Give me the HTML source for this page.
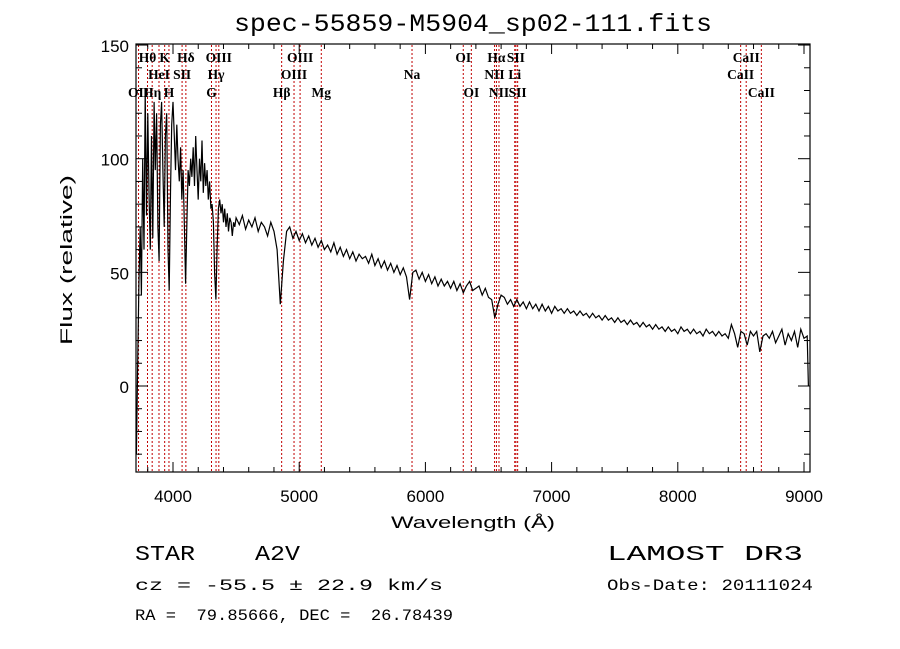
<!DOCTYPE html>
<html><head><meta charset="utf-8"><style>
html,body{margin:0;padding:0;background:#fff;}
svg{display:block;}
text{fill:#000;white-space:pre;}
.t{font-family:"Liberation Mono",monospace;}
.l{font-family:"Liberation Serif",serif;font-weight:bold;font-size:13.5px;}
.k{font-family:"Liberation Sans",sans-serif;font-size:17px;}
</style></head><body>
<svg id="chart" width="900" height="649" viewBox="0 0 900 649" xmlns="http://www.w3.org/2000/svg" xml:space="preserve">
<rect width="900" height="649" fill="#fff"/>
<text class="t" x="473" y="31" font-size="25" text-anchor="middle" textLength="478" lengthAdjust="spacingAndGlyphs">spec-55859-M5904_sp02-111.fits</text>
<g id="lines"></g>
<g id="labels"></g>
<path id="spec" fill="none" stroke="#000" stroke-width="1.2"/>
<rect x="136" y="44" width="674" height="428" fill="none" stroke="#000" stroke-width="1.2"/>
<g id="ticks"></g>
<text class="k" x="473" y="528" text-anchor="middle" textLength="164" lengthAdjust="spacingAndGlyphs">Wavelength (Å)</text>
<text class="k" transform="translate(72,260) rotate(-90)" text-anchor="middle" textLength="170" lengthAdjust="spacingAndGlyphs">Flux (relative)</text>
<text class="t" x="135" y="560" font-size="21" textLength="165" lengthAdjust="spacingAndGlyphs">STAR    A2V</text>
<text class="t" x="607" y="560" font-size="21" textLength="196" lengthAdjust="spacingAndGlyphs">LAMOST DR3</text>
<text class="t" x="135" y="590" font-size="16" textLength="308" lengthAdjust="spacingAndGlyphs">cz = -55.5 ± 22.9 km/s</text>
<text class="t" x="607" y="590" font-size="16" textLength="206" lengthAdjust="spacingAndGlyphs">Obs-Date: 20111024</text>
<text class="t" x="135" y="620" font-size="16" textLength="318" lengthAdjust="spacingAndGlyphs">RA =  79.85666, DEC =  26.78439</text>
</svg>
<script>
const blueWl=[3710,3720,3730,3740,3750,3760,3770,3780,3790,3800,3810,3820,3830,3840,3850,3860,3870,3880,3890,3900,3910,3920,3930,3940,3950,3960,3970,3980,3990,4000,4010,4020,4030,4040,4050,4060,4070,4080,4090,4100,4110,4120,4130,4140,4150,4160,4170,4180,4190,4200,4210,4220,4230,4240,4250,4260,4270,4280,4290,4300,4310,4320,4330,4340,4350,4360,4370,4380,4390,4400,4410,4420,4430,4440,4450,4460,4470,4480,4490,4500];
const blueFlux=[-30,10,45,70,40,100,60,130,75,120,85,60,110,65,125,95,120,70,55,115,125,95,70,110,120,60,42,85,115,125,110,95,115,100,90,105,82,95,70,45,72,95,88,100,92,105,88,110,95,82,100,90,108,85,98,88,95,82,90,78,80,72,50,38,62,78,82,76,80,72,78,70,76,68,74,72,66,72,70,74];
const redStart=4525, redStep=25;
const redFlux=[71,75,69,73,70,74,68,72,70,66,72,68,60,36,55,68,70,65,68,64,67,63,66,62,65,61,64,60,62,59,63,58,61,57,60,56,59,55,58,56,57,54,58,53,56,52,55,51,54,50,53,49,52,48,38,50,51,47,50,46,49,45,48,44,47,44,46,43,46,42,45,41,44,46,42,43,44,40,43,39,38,30,36,40,39,36,38,35,38,35,37,34,37,34,36,33,36,33,35,32,35,33,34,32,34,32,33,31,33,31,32,30,32,30,31,29,31,29,30,28,30,28,29,27,29,27,28,26,28,26,27,25,27,25,26,24,26,24,25,23,26,24,25,23,25,23,24,22,25,23,24,22,24,22,23,21,27,23,17,24,23,18,24,22,24,15,22,23,21,24,19,22,25,18,23,20,24,17,25,21,22];
const lineWl=[3727,3798,3835,3889,3934,3968,4072,4102,4305,4341,4363,4861,4959,5007,5175,5894,6300,6364,6548,6563,6583,6708,6717,6731,8498,8542,8662];
const lineNames=["OII","Hθ","Hη","HeI","K","H","SII","Hδ","G","Hγ","OIII","Hβ","OIII","OIII","Mg","Na","OI","OI","NII","Hα","NII","Li","SII","SII","CaII","CaII","CaII"];
const lineRow=[2,0,2,1,0,2,1,0,2,1,0,2,1,0,2,1,0,2,1,0,2,1,0,2,1,0,2];
const xTicks=[4000,5000,6000,7000,8000,9000];
const yTicks=[0,50,100,150];

const X=w=>173+(w-4000)*0.1262;
const Y=f=>386-f*2.273;
const NS="http://www.w3.org/2000/svg";
function mk(tag,attrs,parent){const e=document.createElementNS(NS,tag);for(const k in attrs)e.setAttribute(k,attrs[k]);parent.appendChild(e);return e;}

let pts=[];
blueWl.forEach((w,i)=>pts.push([X(w),Y(blueFlux[i])]));
redFlux.forEach((f,i)=>pts.push([X(redStart+i*redStep),Y(f)]));
pts.push([X(9035),Y(0)]);
document.getElementById('spec').setAttribute('d','M'+pts.map(p=>p[0].toFixed(1)+','+Math.max(44,Math.min(472,p[1])).toFixed(1)).join('L'));

const lg=document.getElementById('lines'), lb=document.getElementById('labels');
const rowY=[62,79,97];
lineWl.forEach((w,i)=>{
  const l=mk('line',{x1:X(w),x2:X(w),y1:45,y2:472,stroke:'#c00000','stroke-width':1,'stroke-dasharray':'2,2'},lg);
  
  
  const t=mk('text',{x:X(w),y:rowY[lineRow[i]],'text-anchor':'middle',class:'l'},lb);
  t.textContent=lineNames[i];
  
  
});

const tg=document.getElementById('ticks');
for(let w=3800;w<=9000;w+=200){
  const major=w%1000===0, len=major?10:5;
  mk('line',{x1:X(w),x2:X(w),y1:472,y2:472-len,stroke:'#000'},tg);
  mk('line',{x1:X(w),x2:X(w),y1:44,y2:44+len,stroke:'#000'},tg);
}
xTicks.forEach(w=>{
  const t=mk('text',{x:X(w),y:502,'text-anchor':'middle',class:'k'},tg);
  t.textContent=w;
  
  
});
for(let f=-30;f<=150;f+=10){
  const major=f%50===0, len=major?12:6;
  mk('line',{x1:136,x2:136+len,y1:Y(f),y2:Y(f),stroke:'#000'},tg);
  mk('line',{x1:810,x2:810-len,y1:Y(f),y2:Y(f),stroke:'#000'},tg);
}
yTicks.forEach(f=>{
  const t=mk('text',{x:129,y:Y(f)+7,'text-anchor':'end',class:'k','font-size':'19'},tg);
  t.textContent=f;
  
  
});
</script>
</body></html>
